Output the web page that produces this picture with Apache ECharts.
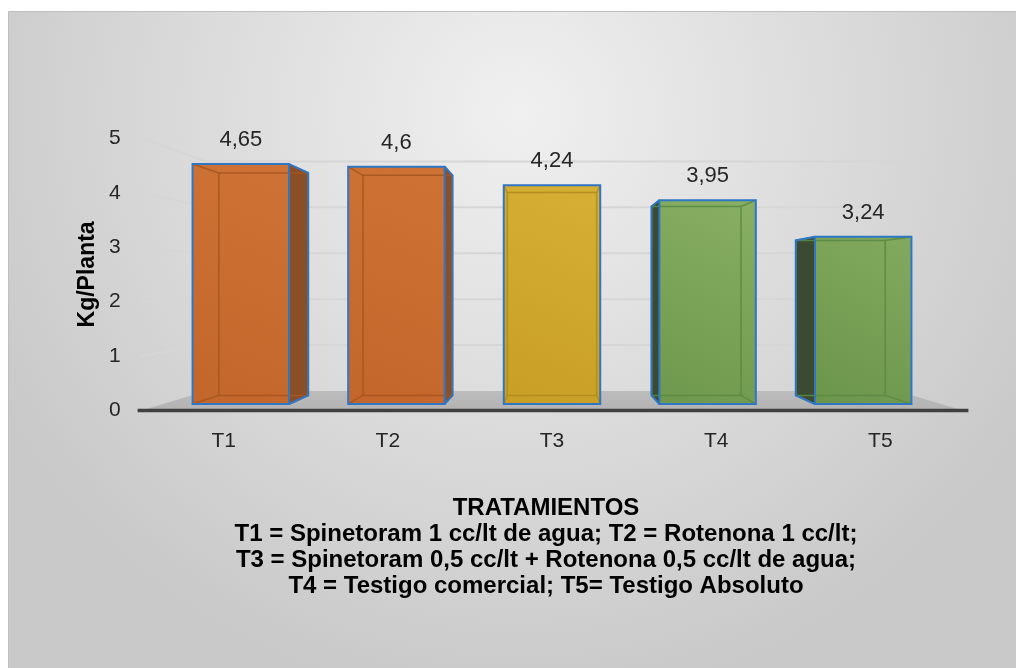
<!DOCTYPE html>
<html><head><meta charset="utf-8">
<script src="https://cdn.jsdelivr.net/npm/echarts@6/dist/echarts.min.js"></script>
<style>html,body{margin:0;padding:0;background:#fff}#c{width:1016px;height:668px}</style>
</head><body><div id="c"></div>
<script>
// ---------- data ----------
const categories = ['T1', 'T2', 'T3', 'T4', 'T5'];
const values = [4.65, 4.6, 4.24, 3.95, 3.24];
const yTicks = [0, 1, 2, 3, 4, 5];
const yAxisTitle = 'Kg/Planta';
const footerLines = [
  'TRATAMIENTOS',
  'T1 = Spinetoram 1 cc/lt de agua; T2 = Rotenona 1 cc/lt;',
  'T3 = Spinetoram 0,5 cc/lt + Rotenona 0,5 cc/lt de agua;',
  'T4 = Testigo comercial; T5= Testigo Absoluto'
];

// ---------- style / layout ----------
const FONT = '"Liberation Sans", Arial, sans-serif';
const barStyles = [
  {top: '#ce7236', bot: '#c3662b', side: '#8b4f27', inner: '#a5561f'},
  {top: '#ce7236', bot: '#c3662b', side: '#8b4f27', inner: '#a5561f'},
  {top: '#d7af35', bot: '#c89f24', side: '#8c7018', inner: '#b08b1e'},
  {top: '#88af64', bot: '#6e984d', side: '#3b4a30', inner: '#5b8944'},
  {top: '#82aa5f', bot: '#6b954b', side: '#3b4a30', inner: '#5b8944'}
];
const OUTLINE = '#2f76c4';
const G = {left: 163, right: 75, top: 146, bottom: 264};
const VPY = (286 - 146) / 258;   // vanishing point (fraction of grid height)
const S_FRONT = 1.055, S_BACK = 0.927, S_WALL = 0.89, BAR_FRAC = 0.62;
const W = 1016, H = 668;
const gw = W - G.left - G.right, gh = H - G.top - G.bottom;
const vpx = G.left + gw / 2, vpy = G.top + gh * VPY;
const FG = {
  left: vpx - S_FRONT * gw / 2,
  right: W - (vpx + S_FRONT * gw / 2),
  top: vpy + S_FRONT * (G.top - vpy),
  bottom: H - (vpy + S_FRONT * (G.top + gh - vpy))
};

function P(p, s, vp) { return [vp[0] + s * (p[0] - vp[0]), vp[1] + s * (p[1] - vp[1])]; }
function fmt(v) { return String(v).replace('.', ','); }

const chart = echarts.init(document.getElementById('c'), null, {renderer: 'canvas'});

function wallsRender(params, api) {
  const cs = params.coordSys;
  const vp = [cs.x + cs.width / 2, cs.y + cs.height * VPY];
  const xl = cs.x, xr = cs.x + cs.width;
  const y0 = api.coord([0, 0])[1];
  const ch = [];
  ch.push({type: 'polygon', shape: {points: [P([xl, y0], S_FRONT, vp), P([xr, y0], S_FRONT, vp), P([xr, y0], S_WALL, vp), P([xl, y0], S_WALL, vp)]},
    style: {fill: {type: 'linear', x: 0, y: 0, x2: 0, y2: 1, colorStops: [{offset: 0, color: '#bdbdbd'}, {offset: 1, color: '#b2b2b2'}]}}});
  yTicks.forEach(v => {
    if (v === 0) return;
    const y = api.coord([0, v])[1];
    ch.push({type: 'polyline', shape: {points: [P([xl, y], S_FRONT, vp), P([xl, y], S_WALL, vp), P([xr, y], S_WALL, vp)]},
      style: {stroke: '#d6d6d6', lineWidth: 2, fill: null}});
  });
  const a = P([xl, y0], S_FRONT, vp), b = P([xr, y0], S_FRONT, vp);
  ch.push({type: 'line', shape: {x1: a[0] - 4, y1: a[1], x2: b[0] + 6, y2: b[1]}, style: {stroke: '#404040', lineWidth: 3.5}});
  return {type: 'group', children: ch};
}

function barRender(params, api) {
  const cs = params.coordSys;
  const vp = [cs.x + cs.width / 2, cs.y + cs.height * VPY];
  const i = api.value(0), v = api.value(1);
  const st = barStyles[i];
  const b = api.coord([i, 0]), t = api.coord([i, v]);
  const w = api.size([1, 0])[0] * BAR_FRAC;
  const x0 = b[0] - w / 2, x1 = b[0] + w / 2, yT = t[1], yB = b[1];
  const F = {tl: [x0, yT], tr: [x1, yT], br: [x1, yB], bl: [x0, yB]};
  const B = {tl: P(F.tl, S_BACK, vp), tr: P(F.tr, S_BACK, vp), br: P(F.br, S_BACK, vp), bl: P(F.bl, S_BACK, vp)};
  const ch = [];
  let side = null;
  if (x1 < vp[0]) side = [F.tr, B.tr, B.br, F.br];
  else if (x0 > vp[0]) side = [F.tl, B.tl, B.bl, F.bl];
  if (side) ch.push({type: 'polygon', shape: {points: side}, style: {fill: st.side}});
  ch.push({type: 'rect', shape: {x: x0, y: yT, width: w, height: yB - yT},
    style: {fill: {type: 'linear', x: 1, y: 0, x2: 0, y2: 1, colorStops: [{offset: 0, color: st.top}, {offset: 1, color: st.bot}]}}});
  const inner = {stroke: st.inner, lineWidth: 1.5, fill: null, opacity: 0.9};
  ch.push({type: 'polygon', shape: {points: [B.tl, B.tr, B.br, B.bl]}, style: inner});
  ['tl', 'tr', 'br', 'bl'].forEach(k => ch.push({type: 'line', shape: {x1: F[k][0], y1: F[k][1], x2: B[k][0], y2: B[k][1]}, style: inner}));
  if (side) ch.push({type: 'polyline', shape: {points: side}, style: {stroke: OUTLINE, lineWidth: 2, fill: null}});
  ch.push({type: 'rect', shape: {x: x0, y: yT, width: w, height: yB - yT}, style: {stroke: OUTLINE, lineWidth: 2, fill: null}});
  ch.push({type: 'text', x: b[0], y: yT - 24, style: {text: fmt(v), fill: '#262626', font: '22px ' + FONT, align: 'center', verticalAlign: 'middle'}});
  return {type: 'group', children: ch};
}

const option = {
  animation: false,
  graphic: [
    {type: 'rect', z: -100, silent: true, shape: {x: 8.5, y: 11.5, width: 1020, height: 670},
      style: {stroke: '#bfbfbf', lineWidth: 1,
        fill: {type: 'radial', x: 0.5, y: 0.15, r: 0.88, colorStops: [{offset: 0, color: '#f0f0f0'}, {offset: 1, color: '#c9c9c9'}]}}},
    {type: 'text', z: 10, x: 88, y: FG.top + (H - FG.bottom - FG.top) / 2, rotation: Math.PI / 2,
      style: {text: yAxisTitle, font: 'bold 23px ' + FONT, fill: '#000', align: 'center', verticalAlign: 'middle'}},
    ...footerLines.map((s, k) => ({type: 'text', z: 10, x: 546, y: 508 + k * 26,
      style: {text: s, font: 'bold 24px ' + FONT, fill: '#000', align: 'center', verticalAlign: 'middle'}}))
  ],
  grid: [
    {left: G.left, right: G.right, top: G.top, bottom: G.bottom},
    {left: FG.left, right: FG.right, top: FG.top, bottom: FG.bottom}
  ],
  xAxis: [
    {type: 'category', data: categories, gridIndex: 0, show: false},
    {type: 'category', data: categories, gridIndex: 1, axisLine: {show: false}, axisTick: {show: false},
      axisLabel: {fontSize: 21, fontFamily: FONT, color: '#262626', margin: 20}}
  ],
  yAxis: [
    {type: 'value', min: 0, max: 5, interval: 1, gridIndex: 0, show: false},
    {type: 'value', min: 0, max: 5, interval: 1, gridIndex: 1, axisLine: {show: false}, axisTick: {show: false},
      splitLine: {show: false}, axisLabel: {fontSize: 21, fontFamily: FONT, color: '#262626', margin: 21}}
  ],
  series: [
    {type: 'custom', xAxisIndex: 0, yAxisIndex: 0, z: 1, clip: false, data: [[0, 0]], renderItem: wallsRender, silent: true},
    {type: 'custom', xAxisIndex: 0, yAxisIndex: 0, z: 3, clip: false, data: values.map((v, i) => [i, v]), renderItem: barRender}
  ]
};
chart.setOption(option);
</script></body></html>
